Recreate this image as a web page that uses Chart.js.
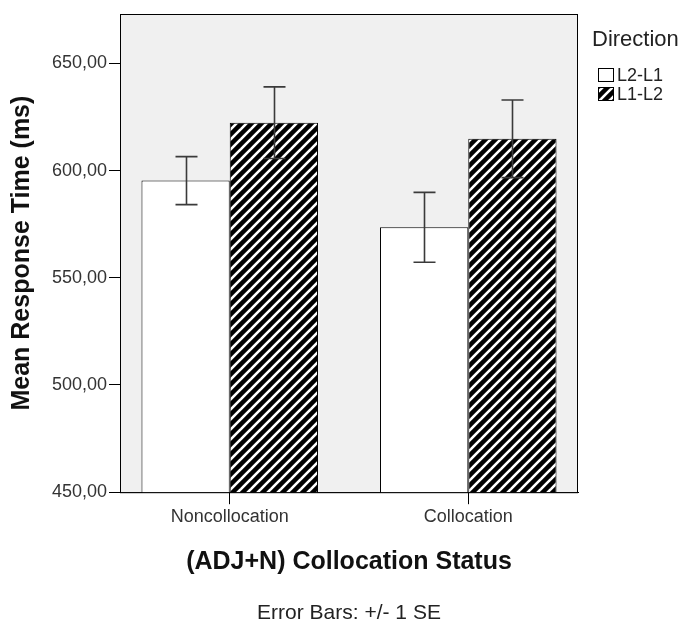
<!DOCTYPE html>
<html>
<head>
<meta charset="utf-8">
<script src="https://cdn.jsdelivr.net/npm/chart.js@4"></script>
<style>
  html, body { margin: 0; padding: 0; background: #fff; }
  #wrap { width: 680px; height: 626px; }
</style>
</head>
<body>
<div id="wrap"><canvas id="rtChart" width="680" height="626"></canvas></div>
<script>
// values
const categories = ["Noncollocation", "Collocation"];
const seriesNames = ["L2-L1", "L1-L2"];
const l2l1Means = [595.3, 573.5];
const l2l1SE = [11.2, 16.3];
const l1l2Means = [622.3, 614.8];
const l1l2SE = [16.7, 18.1];
const yTicks = [450, 500, 550, 600, 650];

const FONT = "'Liberation Sans', Arial, sans-serif";

// diagonal hatch for the L1-L2 bars
function makeHatch() {
    const s = 10;
    const c = document.createElement("canvas");
    c.width = s; c.height = s;
    const g = c.getContext("2d");
    g.fillStyle = "#000";
    g.fillRect(0, 0, s, s);
    g.strokeStyle = "#fff";
    g.lineWidth = 2.6;
    for (let k = -1; k <= 1; k++) {
        g.beginPath();
        g.moveTo(k * s - 1, s + 1);
        g.lineTo(k * s + s + 1, -1);
        g.stroke();
    }
    return g.createPattern(c, "repeat");
}
const hatch = makeHatch();

// grey plot box behind the bars, black frame on top
const plotBox = {
    id: "plotBox",
    beforeDatasetsDraw(chart) {
        const { ctx, chartArea: a } = chart;
        ctx.save();
        ctx.fillStyle = "#f0f0f0";
        ctx.fillRect(a.left, a.top, a.right - a.left, a.bottom - a.top);
        ctx.restore();
    },
    afterDatasetsDraw(chart) {
        const { ctx, chartArea: a } = chart;
        ctx.save();
        ctx.strokeStyle = "#000";
        ctx.lineWidth = 1;
        ctx.strokeRect(a.left + 0.5, a.top + 0.5, a.right - a.left - 1, a.bottom - a.top);
        ctx.restore();
    }
};

// +/- 1 SE whiskers
const errorBars = {
    id: "errorBars",
    afterDatasetsDraw(chart) {
        const { ctx } = chart;
        const y = chart.scales.y;
        ctx.save();
        ctx.strokeStyle = "#3a3a3a";
        ctx.lineWidth = 1.6;
        chart.data.datasets.forEach((ds, i) => {
            chart.getDatasetMeta(i).data.forEach((bar, j) => {
                const m = ds.data[j].y, se = ds.se[j];
                const yt = y.getPixelForValue(m + se);
                const yb = y.getPixelForValue(m - se);
                const x = Math.round(bar.x) + 0.5;
                ctx.beginPath();
                ctx.moveTo(x, yt); ctx.lineTo(x, yb);
                ctx.moveTo(x - 11, yt); ctx.lineTo(x + 11, yt);
                ctx.moveTo(x - 11, yb); ctx.lineTo(x + 11, yb);
                ctx.stroke();
            });
        });
        ctx.restore();
    }
};

// legend at the right, SPSS style
const sideLegend = {
    id: "sideLegend",
    afterDraw(chart) {
        const { ctx } = chart;
        ctx.save();
        ctx.fillStyle = "#222";
        ctx.textBaseline = "middle";
        ctx.font = "22px " + FONT;
        ctx.fillText("Direction", 592, 40);
        ctx.font = "18px " + FONT;
        chart.data.datasets.forEach((ds, i) => {
            const cy = 75 + i * 19;
            ctx.fillStyle = ds.backgroundColor;
            ctx.fillRect(598, cy - 7, 16, 14);
            ctx.strokeStyle = "#000";
            ctx.lineWidth = 1;
            ctx.strokeRect(598.5, cy - 6.5, 15, 13);
            ctx.fillStyle = "#222";
            ctx.fillText(ds.label, 617, cy + 1);
        });
        ctx.restore();
    }
};

const ctx = document.getElementById("rtChart").getContext("2d");
new Chart(ctx, {
    type: "bar",
    data: {
        datasets: [
            {
                label: seriesNames[0],
                data: l2l1Means.map((v, i) => ({ x: i, y: v })),
                se: l2l1SE,
                backgroundColor: "#ffffff",
                borderColor: "#000",
                borderWidth: 1
            },
            {
                label: seriesNames[1],
                data: l1l2Means.map((v, i) => ({ x: i, y: v })),
                se: l1l2SE,
                backgroundColor: hatch,
                borderColor: "#000",
                borderWidth: 1
            }
        ]
    },
    options: {
        responsive: false,
        animation: false,
        datasets: { bar: { categoryPercentage: 0.74, barPercentage: 1.0 } },
        layout: { padding: { top: 14, right: 102, left: 0, bottom: 0 } },
        scales: {
            x: {
                type: "linear",
                min: -0.46,
                max: 1.46,
                offset: false,
                afterBuildTicks: (s) => { s.ticks = categories.map((c, i) => ({ value: i })); },
                ticks: {
                    callback: (v) => categories[v],
                    font: { family: FONT, size: 18 },
                    color: "#333",
                    padding: 2,
                    maxRotation: 0
                },
                grid: { offset: false, drawOnChartArea: false, tickLength: 12, color: "#000" },
                border: { display: true, color: "#000" },
                title: {
                    display: true,
                    text: "(ADJ+N) Collocation Status",
                    font: { family: FONT, size: 25, weight: "bold" },
                    color: "#111",
                    padding: { top: 17, bottom: 0 }
                }
            },
            y: {
                min: 450,
                max: 673,
                afterBuildTicks: (s) => { s.ticks = yTicks.map(v => ({ value: v })); },
                afterFit: (s) => { s.width = 120; },
                ticks: {
                    callback: (v) => v.toFixed(2).replace(".", ","),
                    font: { family: FONT, size: 18 },
                    color: "#333",
                    padding: 2
                },
                grid: { drawOnChartArea: false, tickLength: 11, color: "#000" },
                border: { display: true, color: "#000" },
                title: {
                    display: true,
                    text: "Mean Response Time (ms)",
                    font: { family: FONT, size: 25, weight: "bold" },
                    color: "#111",
                    padding: { top: 7, bottom: 0 }
                }
            }
        },
        plugins: {
            legend: { display: false },
            tooltip: { enabled: false },
            title: {
                display: true,
                position: "bottom",
                fullSize: false,
                text: "Error Bars: +/- 1 SE",
                font: { family: FONT, size: 21, weight: "normal" },
                color: "#222",
                padding: { top: 24, bottom: 0 }
            }
        }
    },
    plugins: [plotBox, errorBars, sideLegend]
});
</script>
</body>
</html>
